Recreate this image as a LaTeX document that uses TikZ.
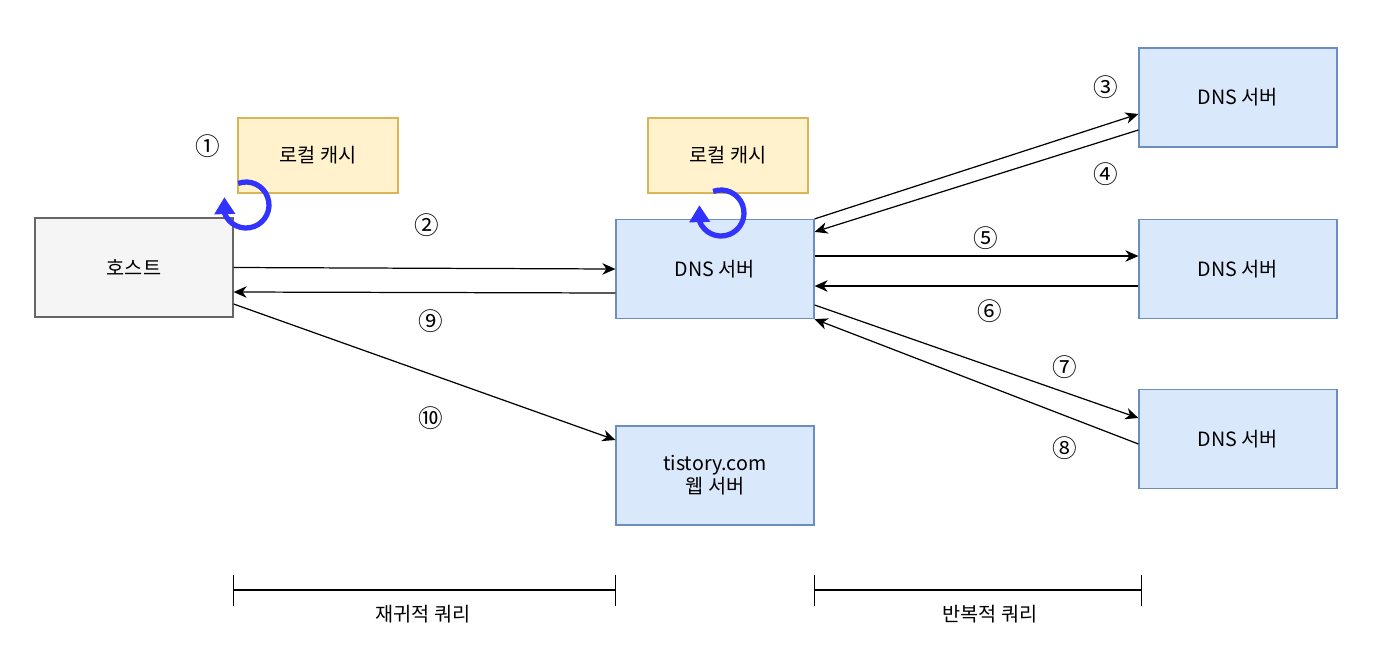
\documentclass[tikz,border=0pt]{standalone}
\usepackage{fontspec}
\setmainfont{Noto Sans CJK KR}
\usetikzlibrary{arrows.meta, bending, positioning, calc}
\definecolor{chostfill}{HTML}{F5F5F5}
\definecolor{chostline}{HTML}{666666}
\definecolor{ccachefill}{HTML}{FFF2CC}
\definecolor{ccacheline}{HTML}{D6B656}
\definecolor{csrvfill}{HTML}{DAE8FC}
\definecolor{csrvline}{HTML}{6C8EBF}
\definecolor{cloop}{HTML}{3333FF}
\tikzset{
  every picture/.style={font=\fontsize{11.2}{13}\selectfont, line width=0.7pt},
  box/.style={draw=#1line, fill=#1fill, align=center, minimum width=3.96cm, minimum height=1.98cm, inner sep=2pt},
  box/.default=csrv,
  cachebox/.style={box=ccache, minimum width=3.2cm, minimum height=1.5cm},
  arrow/.style={-{Stealth[length=2.6mm, width=2.3mm, inset=0.8mm]}, line width=0.7pt},
  loop arrow/.style={draw=cloop, line width=3pt, -{Triangle[length=3.4mm, width=4mm, flex]}},
  span/.style={{Bar[width=0.62cm]}-{Bar[width=0.62cm]}, line width=0.7pt},
  num/.style={inner sep=1pt, font=\fontsize{14}{16}\selectfont},
}

\begin{document}
\begin{tikzpicture}[x=0.02cm, y=-0.02cm]
  \useasboundingbox (0,0) rectangle (1383,647);
  % boxes
  \node[box=chost] (host) at (134,267.5) {호스트};
  \node[cachebox] (hcache) at (318,155.5) {로컬 캐시};
  \node[box] (dns) at (715,269) {DNS 서버};
  \node[cachebox] (dcache) at (728,155.5) {로컬 캐시};
  \node[box] (top) at (1238,97.5) {DNS 서버};
  \node[box] (mid) at (1238,269) {DNS 서버};
  \node[box] (bot) at (1238,439) {DNS 서버};
  \node[box] (web) at (715,475.5) {tistory.com\\웹 서버};
  % cache lookups
  \foreach \cx/\cy in {246/205, 721/213} {
    \begin{scope}[shift={(\cx,\cy)}, x=1cm, y=1cm]
      \draw[loop arrow] (110:0.46) arc[start angle=110, end angle=-200, radius=0.46];
    \end{scope}
  }
  % recursive query
  \draw[arrow] (host.east) -- (dns.west);
  \draw[arrow] ([yshift=-0.48cm]dns.west) -- ([yshift=-0.49cm]host.east);
  \draw[arrow] ([yshift=-0.73cm]host.east) -- ([yshift=0.71cm]web.west);
  % iterative query
  \draw[arrow] (dns.north east) -- ([yshift=-0.33cm]top.west);
  \draw[arrow] ([yshift=-0.65cm]top.west) -- ([yshift=-0.26cm]dns.north east);
  \draw[arrow] ([yshift=0.26cm]dns.east) -- ([yshift=0.26cm]mid.west);
  \draw[arrow] ([yshift=-0.34cm]mid.west) -- ([yshift=-0.34cm]dns.east);
  \draw[arrow] ([yshift=-0.72cm]dns.east) -- ([yshift=0.42cm]bot.west);
  \draw[arrow] ([yshift=-0.1cm]bot.west) -- (dns.south east);
  % step numbers
  \foreach \t/\x/\y [count=\i] in {①/208/146, ②/427/225, ③/1106/87, ④/1106/174, ⑤/986/238,
                                   ⑥/990/311, ⑦/1065/367, ⑧/1065/448, ⑨/431/321, ⑩/431/418} {
    \node[num] (n\i) at (\x,\y) {\t};
  }
  % spans
  \coordinate (rq1) at (233,590);
  \coordinate (rq2) at (616,590);
  \coordinate (iq1) at (814,590);
  \coordinate (iq2) at (1142,590);
  \draw[span] (rq1) -- (rq2);
  \draw[span] (iq1) -- (iq2);
  \node (rqlabel) at (423,614) {재귀적 쿼리};
  \node (iqlabel) at (990,614) {반복적 쿼리};
\end{tikzpicture}
\end{document}
